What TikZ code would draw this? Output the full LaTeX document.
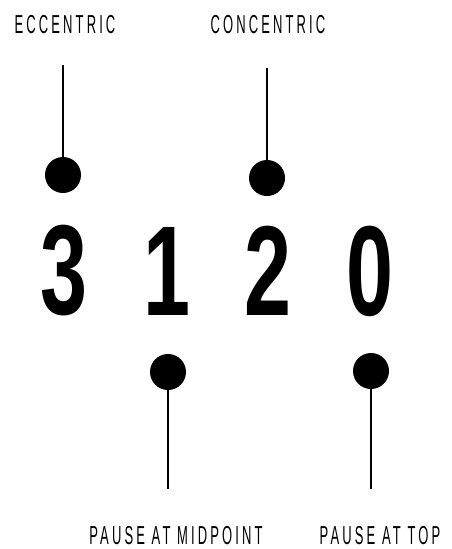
\documentclass[tikz,border=0pt]{standalone}
\usepackage{fontspec}
\newfontfamily\digitfont[FakeStretch=0.66]{Liberation Sans Bold}
\newfontfamily\labelfont[FakeStretch=0.5,LetterSpace=12]{Liberation Sans}

\tikzset{
	tempo/.style={font=\digitfont\fontsize{128}{128}\selectfont, inner sep=0pt},
	phase/.style={font=\labelfont\fontsize{26}{26}\selectfont, inner sep=0pt},
	pin/.style={circle, fill=black, minimum size=36pt, inner sep=0pt},
	stem/.style={line width=1.2pt}
}

\begin{document}
\begin{tikzpicture}[x=1pt, y=-1pt, line cap=butt]

	\useasboundingbox (0,0) rectangle (452,549);

	% --- digits of the tempo ---
	\foreach \x/\d/\n in {64/3/three, 167/1/one, 268/2/two, 370/0/zero} {
		\node[tempo] (\n) at (\x, 271) {\d};
	}

	% --- upper pins ---
	\node[pin] (eccdot) at (63, 175) {};
	\node[pin] (condot) at (267, 178) {};
	\coordinate (eccend) at (63, 65);
	\coordinate (conend) at (267, 68);
	\draw[stem] (eccend) -- (eccdot.center);
	\draw[stem] (conend) -- (condot.center);

	% --- lower pins ---
	\node[pin] (middot) at (168, 372) {};
	\node[pin] (topdot) at (371, 371) {};
	\coordinate (midend) at (168, 489);
	\coordinate (topend) at (371, 489);
	\draw[stem] (middot.center) -- (midend);
	\draw[stem] (topdot.center) -- (topend);

	% --- labels ---
	\node[phase] (ecc) at (65, 25) {ECCENTRIC};
	\node[phase] (con) at (268, 25) {CONCENTRIC};
	\node[phase] (mid) at (176, 536) {PAUSE AT MIDPOINT};
	\node[phase] (top) at (380, 536) {PAUSE AT TOP};

\end{tikzpicture}
\end{document}
